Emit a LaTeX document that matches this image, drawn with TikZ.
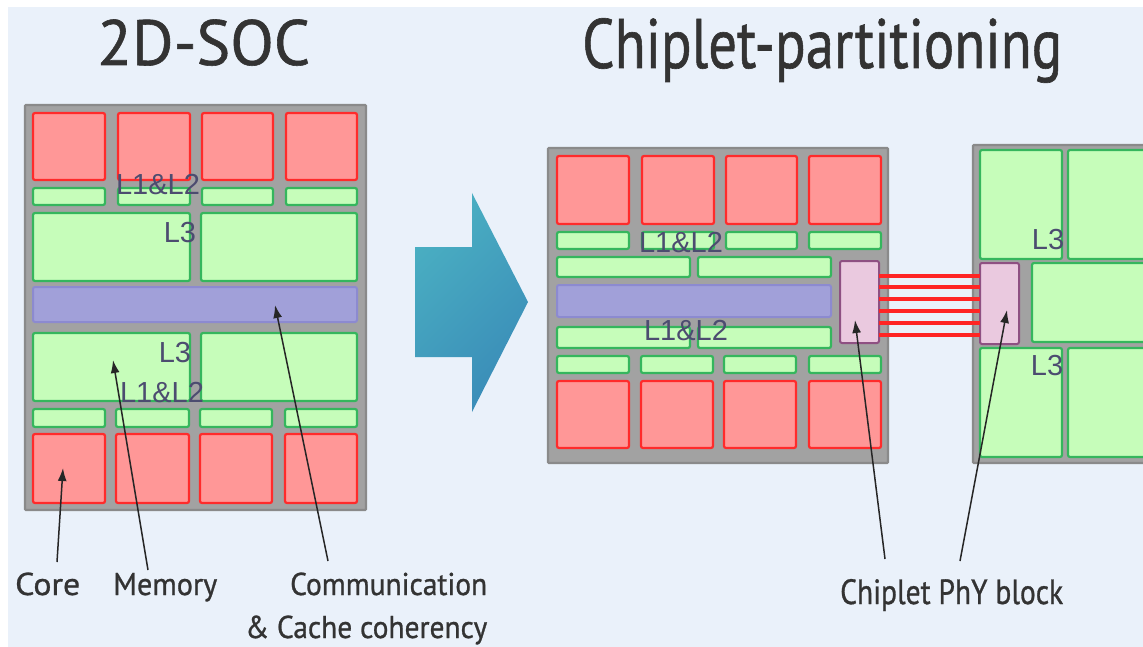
\documentclass[tikz,border=0pt]{standalone}
\usepackage{fontspec}
\usepackage{graphicx}
\usetikzlibrary{arrows.meta}
\newfontfamily\gill[FakeBold=0.9]{PT Sans}
\newfontfamily\arialf{Liberation Sans}

\definecolor{bgblue}{HTML}{EAF1FA}
\definecolor{chipgray}{HTML}{A2A2A2}
\definecolor{chipedge}{HTML}{8A8A8A}
\definecolor{corefill}{HTML}{FF9797}
\definecolor{coreedge}{HTML}{FF2B2B}
\definecolor{memfill}{HTML}{C6FDBA}
\definecolor{memedge}{HTML}{35B65D}
\definecolor{busfill}{HTML}{A1A0D9}
\definecolor{busedge}{HTML}{8C8AD0}
\definecolor{phyfill}{HTML}{EAC9DF}
\definecolor{phyedge}{HTML}{8E5082}
\definecolor{lbl}{HTML}{4C4C70}
\definecolor{txt}{HTML}{333333}
\definecolor{arrA}{HTML}{4AAFC2}
\definecolor{arrB}{HTML}{3A8CB8}
\definecolor{wire}{HTML}{FF2424}

% block placed by its top-left and bottom-right corners
\newcommand\blk[6]{%
  \pgfmathsetmacro\blkw{#5-#3}\pgfmathsetmacro\blkh{#6-#4}%
  \node[#1, anchor=north west, minimum width=\blkw pt, minimum height=\blkh pt] (#2) at (#3,#4) {};}
% text squeezed to a given width
\newcommand\fitw[2]{\resizebox{#1}{\height}{#2}}

\tikzset{
  blkbase/.style={inner sep=0pt, outer sep=0pt, rounded corners=2pt},
  chip/.style={blkbase, fill=chipgray, draw=chipedge, line width=2.2pt, rounded corners=1pt},
  core/.style={blkbase, fill=corefill, draw=coreedge, line width=2.2pt},
  mem/.style={blkbase, fill=memfill, draw=memedge, line width=2.2pt},
  bus/.style={blkbase, fill=busfill, draw=busedge, line width=2pt},
  phy/.style={blkbase, fill=phyfill, draw=phyedge, line width=2pt},
  cachelbl/.style={inner sep=0pt, anchor=base, text=lbl, font=\arialf\fontsize{29}{29}\selectfont},
  title/.style={inner sep=0pt, anchor=base west, text=txt, font=\gill},
  caption/.style={inner sep=0pt, anchor=base west, text=txt, font=\gill},
  pointer/.style={draw=black!85, line width=1.5pt, -{Latex[length=13pt,width=9pt]}},
  wireline/.style={draw=wire, line width=3.4pt},
}

\begin{document}
\begin{tikzpicture}[x=1pt,y=-1pt]
\useasboundingbox (0,0) rectangle (1143,647);
\fill[white] (0,0) rectangle (1143,647);
\fill[bgblue] (8,7) rectangle (1143,647);

% titles
\node[title] (t1) at (97,65) {\fitw{213pt}{\fontsize{64}{64}\selectfont 2D-SOC}};
\node[title] (t2) at (582,68) {\fitw{480pt}{\fontsize{70}{70}\selectfont Chiplet-partitioning}};

% ---------- monolithic SoC ----------
\blk{chip}{soc}{25}{105}{366}{510}
\blk{core}{sc1}{33}{113}{105}{180}
\blk{core}{sc2}{118}{113}{190}{180}
\blk{core}{sc3}{202}{113}{273}{180}
\blk{core}{sc4}{286}{113}{357}{180}
\blk{mem}{sl1}{33}{188}{105}{205}
\blk{mem}{sl2}{118}{188}{190}{205}
\blk{mem}{sl3}{202}{188}{273}{205}
\blk{mem}{sl4}{286}{188}{357}{205}
\blk{mem}{sm1}{33}{213}{190}{281}
\blk{mem}{sm2}{201}{213}{357}{281}
\blk{bus}{sbus}{33}{287}{357}{322}
\blk{mem}{sm3}{33}{333}{190}{401}
\blk{mem}{sm4}{201}{333}{357}{401}
\blk{mem}{sl5}{33}{409}{105}{427}
\blk{mem}{sl6}{116}{409}{189}{427}
\blk{mem}{sl7}{200}{409}{272}{427}
\blk{mem}{sl8}{285}{409}{357}{427}
\blk{core}{sc5}{33}{434}{105}{503}
\blk{core}{sc6}{116}{434}{189}{503}
\blk{core}{sc7}{200}{434}{272}{503}
\blk{core}{sc8}{285}{434}{357}{503}

\node[cachelbl] (la1) at (158,195) {L1\&L2};
\node[cachelbl] (la2) at (180,243) {L3};
\node[cachelbl] (la3) at (175,362) {L3};
\node[cachelbl] (la4) at (162,402) {L1\&L2};

% ---------- transition arrow ----------
\shade[top color=arrA, bottom color=arrB, shading angle=45]
  (415,247) -- (472,247) -- (472,193) -- (528,302) -- (472,412) -- (472,357) -- (415,357) -- cycle;

% ---------- compute chiplet ----------
\blk{chip}{cp}{548}{148}{888}{463}
\blk{core}{cc1}{557}{156}{629}{224}
\blk{core}{cc2}{642}{156}{714}{224}
\blk{core}{cc3}{726}{156}{797}{224}
\blk{core}{cc4}{809}{156}{881}{224}
\blk{mem}{cl1}{557}{232}{629}{249}
\blk{mem}{cl2}{642}{232}{714}{249}
\blk{mem}{cl3}{726}{232}{797}{249}
\blk{mem}{cl4}{809}{232}{881}{249}
\blk{mem}{cw1}{557}{257}{690}{277}
\blk{mem}{cw2}{698}{257}{831}{277}
\blk{bus}{cbus}{557}{285}{831}{317}
\blk{mem}{cw3}{557}{327}{690}{348}
\blk{mem}{cw4}{698}{327}{831}{348}
\blk{mem}{cl5}{557}{356}{629}{373}
\blk{mem}{cl6}{641}{356}{713}{373}
\blk{mem}{cl7}{724}{356}{796}{373}
\blk{mem}{cl8}{809}{356}{881}{373}
\blk{core}{cc5}{557}{381}{629}{448}
\blk{core}{cc6}{641}{381}{713}{448}
\blk{core}{cc7}{724}{381}{796}{448}
\blk{core}{cc8}{809}{381}{881}{448}
\blk{phy}{phyL}{840}{261}{879}{343}

\node[cachelbl] (lb1) at (681,252) {L1\&L2};
\node[cachelbl] (lb2) at (686,340) {L1\&L2};

% ---------- cache chiplet ----------
\blk{chip}{mp}{973}{145}{1160}{463}
\blk{mem}{mc1}{980}{150}{1062}{259}
\blk{mem}{mc2}{1068}{150}{1160}{259}
\blk{phy}{phyR}{980}{263}{1019}{344}
\blk{mem}{mc3}{1032}{263}{1160}{342}
\blk{mem}{mc4}{980}{348}{1062}{457}
\blk{mem}{mc5}{1068}{348}{1160}{457}

\node[cachelbl] (lc1) at (1048,250) {L3};
\node[cachelbl] (lc2) at (1047,375) {L3};

% die-to-die wires
\foreach \wy in {276,287,299,311,323,335}
  \draw[wireline] (phyL.east |- 0,\wy) -- (phyR.west |- 0,\wy);

% ---------- captions ----------
\node[caption] (core) at (15,595) {\fitw{65pt}{\fontsize{31.5}{31.5}\selectfont Core}};
\node[caption] (memory) at (113,595) {\fitw{104pt}{\fontsize{31.5}{31.5}\selectfont Memory}};
\node[caption] (comm) at (290,595) {\fitw{197pt}{\fontsize{31.5}{31.5}\selectfont Communication}};
\node[caption] (coh) at (245,638) {\fitw{242pt}{\fontsize{31.5}{31.5}\selectfont \& Cache coherency}};
\node[caption] (phyc) at (840,604) {\fitw{223pt}{\fontsize{35}{35}\selectfont Chiplet PhY block}};

% pointer lines
\coordinate (pcore) at (57,562);   \coordinate (tcore) at (63,468);
\coordinate (pmem) at (148,570);   \coordinate (tmem) at (113,360);
\coordinate (pcomm) at (328,561);  \coordinate (tcomm) at (275,305);
\coordinate (pphyL) at (885,559);  \coordinate (tphyL) at (855,320);
\coordinate (pphyR) at (960,561);  \coordinate (tphyR) at (1007,310);
\draw[pointer] (pcore) -- (tcore);
\draw[pointer] (pmem) -- (tmem);
\draw[pointer] (pcomm) -- (tcomm);
\draw[pointer] (pphyL) -- (tphyL);
\draw[pointer] (pphyR) -- (tphyR);
\end{tikzpicture}
\end{document}
